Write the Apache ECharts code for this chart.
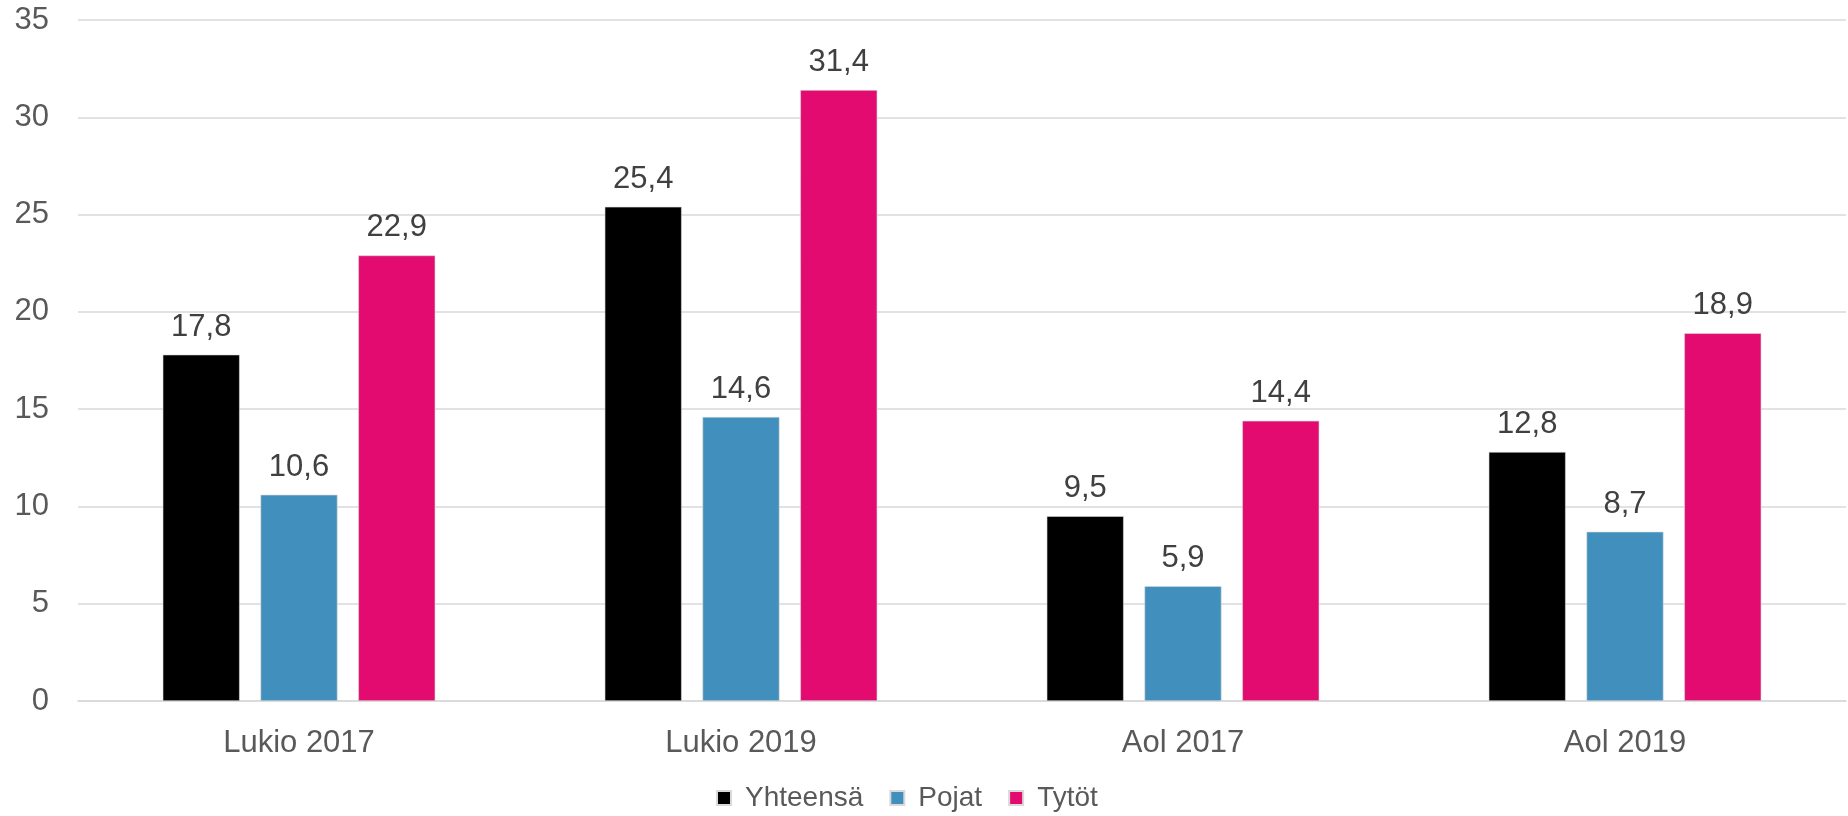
<!DOCTYPE html>
<html>
<head>
<meta charset="utf-8">
<script src="https://cdn.jsdelivr.net/npm/echarts@6/dist/echarts.min.js"></script>
<style>
  html, body { margin: 0; padding: 0; background: #fff; }
  #chart { width: 1848px; height: 816px; }
</style>
</head>
<body>
<div id="chart"></div>
<script>
// ----------------------
// DATA
// ----------------------
const categories = ["Lukio 2017", "Lukio 2019", "Aol 2017", "Aol 2019"];
const yhteensa = [17.8, 25.4, 9.5, 12.8];
const pojat = [10.6, 14.6, 5.9, 8.7];
const tytot = [22.9, 31.4, 14.4, 18.9];

const FONT = "'Liberation Sans', Arial, sans-serif";

function bar(name, data, color) {
  return {
    name: name,
    type: "bar",
    data: data,
    barWidth: 77,
    barGap: "27%",
    itemStyle: { color: color, borderColor: "#d9d9d9", borderWidth: 0.6 },
    label: {
      show: true,
      position: "top",
      distance: 12,
      color: "#404040",
      fontFamily: FONT,
      fontSize: 31,
      formatter: (p) => String(p.value).replace(".", ","),
    },
  };
}

// ----------------------
// CHART
// ----------------------
const chart = echarts.init(document.getElementById("chart"));

chart.setOption({
  animation: false,
  grid: { left: 78, right: 2, top: 20, bottom: 115 },
  legend: {
    left: 711,
    top: 779,
    itemWidth: 14,
    itemHeight: 14,
    itemGap: 26,
    icon: "rect",
    textStyle: { color: "#595959", fontFamily: FONT, fontSize: 28, padding: [0, 0, 0, 9] },
    data: ["Yhteensä", "Pojat", "Tytöt"],
  },
  xAxis: {
    type: "category",
    data: categories,
    axisLine: { lineStyle: { color: "#d9d9d9", width: 1.5 } },
    axisTick: { show: false },
    axisLabel: { color: "#595959", fontFamily: FONT, fontSize: 31, margin: 27 },
  },
  yAxis: {
    type: "value",
    min: 0,
    max: 35,
    interval: 5,
    axisLine: { show: false },
    axisTick: { show: false },
    splitLine: { lineStyle: { color: "#d9d9d9", width: 1.5 } },
    axisLabel: { color: "#595959", fontFamily: FONT, fontSize: 31, margin: 29 },
  },
  series: [
    bar("Yhteensä", yhteensa, "#000000"),
    bar("Pojat", pojat, "#418fbc"),
    bar("Tytöt", tytot, "#e30b6f"),
  ],
});
</script>
</body>
</html>
